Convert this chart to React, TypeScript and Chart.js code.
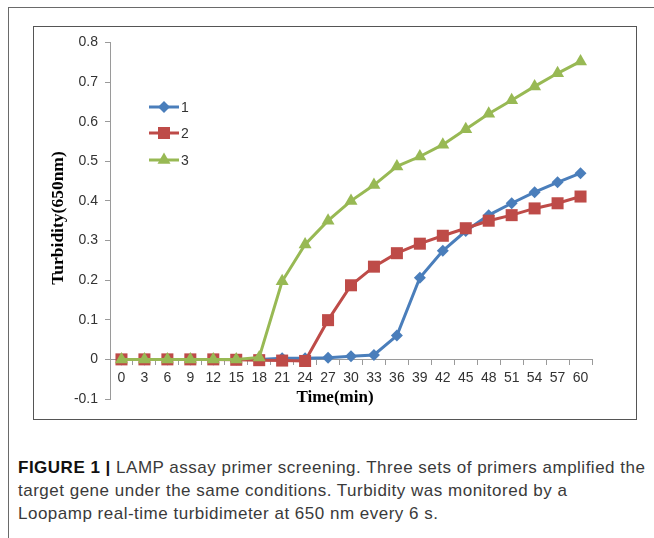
import React, { useEffect, useRef } from "react";
import { Chart, registerables } from "chart.js";

Chart.register(...registerables);

const timeLabels = ["0", "3", "6", "9", "12", "15", "18", "21", "24", "27", "30", "33", "36", "39", "42", "45", "48", "51", "54", "57", "60"];
const seriesNames = ["1", "2", "3"];
const series1 = [0, 0, 0, 0, 0, 0, 0, 0.003, 0.003, 0.004, 0.008, 0.011, 0.06, 0.206, 0.274, 0.324, 0.364, 0.394, 0.422, 0.447, 0.47];
const series2 = [0, 0, 0, 0, 0, -0.001, -0.002, -0.003, -0.004, 0.099, 0.187, 0.234, 0.268, 0.292, 0.312, 0.331, 0.35, 0.364, 0.381, 0.394, 0.411];
const series3 = [0, 0, 0, 0, 0, 0, 0.005, 0.197, 0.29, 0.35, 0.4, 0.44, 0.487, 0.512, 0.542, 0.581, 0.62, 0.654, 0.689, 0.722, 0.752];
const yMin = -0.1;
const yMax = 0.8;
const yStep = 0.1;
const xTitle = "Time(min)";
const yTitle = "Turbidity(650nm)";

const colors = ["#4A7EBB", "#BE4B48", "#98B954"];
const pointStyles = ["rectRot", "rect", "triangle"];
const pointRadii = [6, 8.5, 7.5];

function drawMarker(ctx: CanvasRenderingContext2D, style: string, x: number, y: number, r: number, color: string) {
  ctx.save();
  ctx.fillStyle = color;
  ctx.beginPath();
  if (style === "rectRot") {
    ctx.moveTo(x, y - r);
    ctx.lineTo(x + r, y);
    ctx.lineTo(x, y + r);
    ctx.lineTo(x - r, y);
  } else if (style === "rect") {
    const s = Math.SQRT1_2 * r;
    ctx.rect(x - s, y - s, 2 * s, 2 * s);
  } else {
    const edge = (3 * r) / Math.sqrt(3);
    const h = (edge * Math.sqrt(3)) / 2;
    ctx.moveTo(x - edge / 2, y + h / 3);
    ctx.lineTo(x + edge / 2, y + h / 3);
    ctx.lineTo(x, y - (2 * h) / 3);
  }
  ctx.closePath();
  ctx.fill();
  ctx.restore();
}

const overlayPlugin = {
  id: "overlay",
  afterDraw(chart: any) {
    const ctx: CanvasRenderingContext2D = chart.ctx;
    ctx.save();
    ctx.fillStyle = "#000";
    ctx.font = "bold 17px 'Liberation Serif', 'Times New Roman', serif";
    ctx.textAlign = "center";
    ctx.textBaseline = "middle";
    ctx.fillText(xTitle, 301, 371);
    ctx.save();
    ctx.translate(24, 191);
    ctx.rotate(-Math.PI / 2);
    ctx.font = "bold 17.5px 'Liberation Serif', 'Times New Roman', serif";
    ctx.fillText(yTitle, 0, 0);
    ctx.restore();
    const ys = [80, 106, 133];
    seriesNames.forEach((name, i) => {
      const y = ys[i];
      ctx.strokeStyle = colors[i];
      ctx.lineWidth = 3;
      ctx.beginPath();
      ctx.moveTo(115, y);
      ctx.lineTo(145, y);
      ctx.stroke();
      drawMarker(ctx, pointStyles[i], 130, y, pointRadii[i], colors[i]);
      ctx.fillStyle = "#333";
      ctx.font = "14px 'Liberation Sans', Arial, sans-serif";
      ctx.textAlign = "left";
      ctx.textBaseline = "middle";
      ctx.fillText(name, 147, y + 1);
    });
    ctx.restore();
  },
};

export default function App() {
  const canvasRef = useRef<HTMLCanvasElement | null>(null);

  useEffect(() => {
    const canvas = canvasRef.current;
    if (!canvas) return;
    const allSeries = [series1, series2, series3];
    const chart = new Chart(canvas, {
      type: "line",
      data: {
        labels: timeLabels,
        datasets: allSeries.map((d, i) => ({
          label: seriesNames[i],
          data: d,
          borderColor: colors[i],
          backgroundColor: colors[i],
          borderWidth: 3,
          pointStyle: pointStyles[i] as any,
          pointRadius: pointRadii[i],
          pointBorderWidth: 0,
          pointBackgroundColor: colors[i],
          pointBorderColor: colors[i],
          tension: 0,
          fill: false,
          order: 2 - i,
          clip: false as any,
        })),
      },
      options: {
        responsive: false,
        animation: false,
        events: [],
        layout: { padding: { left: 0, top: 12, right: 44, bottom: 20 } },
        plugins: {
          legend: { display: false },
          title: { display: false },
          tooltip: { enabled: false },
        },
        scales: {
          x: {
            type: "category",
            position: { y: 0 } as any,
            offset: true,
            afterFit: (scale: any) => {
              scale.height = 0;
            },
            grid: {
              display: true,
              offset: true,
              drawOnChartArea: false,
              drawTicks: true,
              tickLength: 5,
              color: "#9a9a9a",
            },
            border: { display: true, color: "#9a9a9a", width: 1 },
            ticks: {
              autoSkip: false,
              maxRotation: 0,
              minRotation: 0,
              padding: 5,
              color: "#333",
              font: { family: "'Liberation Sans', Arial, sans-serif", size: 14 },
            },
          },
          y: {
            type: "linear",
            min: yMin,
            max: yMax,
            afterFit: (scale: any) => {
              scale.width = 76;
            },
            grid: {
              display: true,
              drawOnChartArea: false,
              drawTicks: true,
              tickLength: 5,
              color: "#9a9a9a",
            },
            border: { display: true, color: "#9a9a9a", width: 1 },
            ticks: {
              stepSize: yStep,
              padding: 7,
              color: "#333",
              font: { family: "'Liberation Sans', Arial, sans-serif", size: 14 },
              callback: (v: any) => String(Number(Number(v).toFixed(1))),
            },
          },
        },
      },
      plugins: [overlayPlugin],
    });
    return () => chart.destroy();
  }, []);

  const captionStyle: React.CSSProperties = {
    position: "absolute",
    left: 18,
    whiteSpace: "nowrap",
    fontFamily: "'Liberation Sans', Arial, sans-serif",
    fontSize: 17,
    letterSpacing: "0.5px",
    lineHeight: "23px",
    color: "#3a3a3a",
  };

  return (
    <div style={{ position: "fixed", left: 0, top: 0, width: 654, height: 538, background: "#fff", overflow: "hidden" }}>
      <div style={{ position: "absolute", left: 8, top: 7, width: 660, height: 560, borderLeft: "1px solid #6a6a6a", borderTop: "1px solid #6a6a6a" }} />
      <div style={{ position: "absolute", left: 33, top: 26, width: 604, height: 394, border: "1px solid #555", boxSizing: "border-box" }} />
      <canvas ref={canvasRef} width={602} height={392} style={{ position: "absolute", left: 34, top: 27, width: 602, height: 392 }} />
      <div style={{ ...captionStyle, top: 456 }}>
        <span style={{ fontWeight: "bold", color: "#111" }}>FIGURE 1 |</span> LAMP assay primer screening. Three sets of primers amplified the
      </div>
      <div style={{ ...captionStyle, top: 479 }}>target gene under the same conditions. Turbidity was monitored by a</div>
      <div style={{ ...captionStyle, top: 502 }}>Loopamp real-time turbidimeter at 650 nm every 6 s.</div>
    </div>
  );
}
